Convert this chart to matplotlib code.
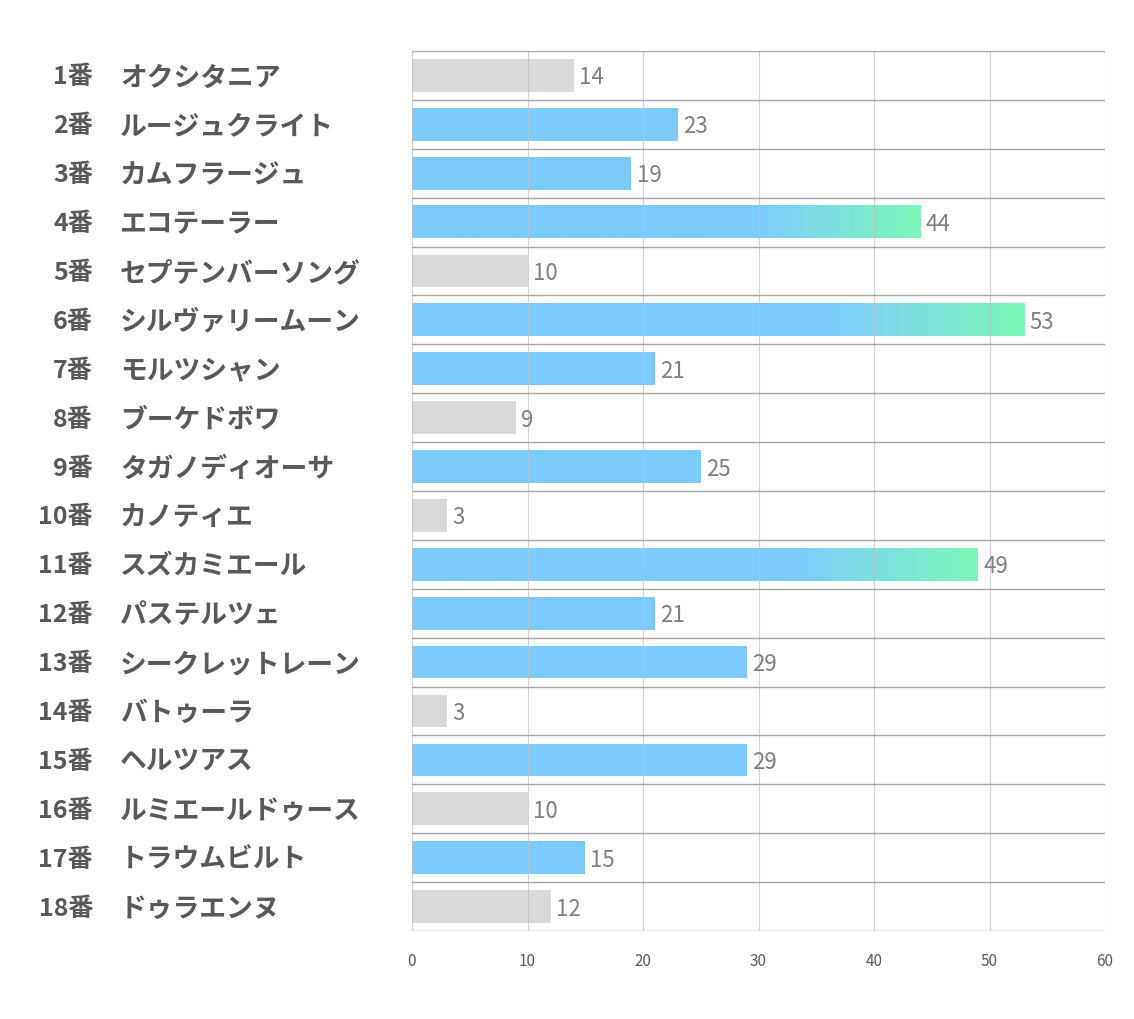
import numpy as np
import matplotlib
matplotlib.use("Agg")
import matplotlib.pyplot as plt
from matplotlib.colors import to_rgb

plt.rcParams['font.family'] = ['Noto Sans CJK JP', 'DejaVu Sans']

numbers = [f"{i}番" for i in range(1, 19)]
names = ["オクシタニア", "ルージュクライト", "カムフラージュ", "エコテーラー",
         "セプテンバーソング", "シルヴァリームーン", "モルツシャン", "ブーケドボワ",
         "タガノディオーサ", "カノティエ", "スズカミエール", "パステルツェ",
         "シークレットレーン", "バトゥーラ", "ヘルツアス", "ルミエールドゥース",
         "トラウムビルト", "ドゥラエンヌ"]
values = [14, 23, 19, 44, 10, 53, 21, 9, 25, 3, 49, 21, 29, 3, 29, 10, 15, 12]
styles = ["gray", "blue", "blue", "grad", "gray", "grad", "blue", "gray", "blue",
          "gray", "grad", "blue", "blue", "gray", "blue", "gray", "blue", "gray"]
xticks = [0, 10, 20, 30, 40, 50, 60]

GRAY = "#D9D9D9"
BLUE = "#7DCBFD"
GREEN = "#7EF8B9"

W, H = 1134, 1020
fig = plt.figure(figsize=(W / 100, H / 100), dpi=100)
ax = fig.add_axes([412 / W, 1 - 932 / H, (1105 - 412) / W, (932 - 52) / H])

n = len(values)
bh = 0.67

b = np.array(to_rgb(BLUE))
g = np.array(to_rgb(GREEN))
for i, (v, s) in enumerate(zip(values, styles)):
    if s == "gray":
        ax.barh(i, v, height=bh, color=GRAY, zorder=2)
    elif s == "blue":
        ax.barh(i, v, height=bh, color=BLUE, zorder=2)
    else:
        N = 400
        t = np.linspace(0, 1, N)
        f = np.clip((t - 0.68) / 0.32, 0, 1)[:, None]
        cols = b * (1 - f) + g * f
        img = cols[None, :, :]
        ax.imshow(img, extent=(0, v, i + bh / 2, i - bh / 2), aspect='auto',
                  zorder=2, interpolation='bilinear')
    ax.text(v + 0.45, i + 0.03, str(v), va='center', ha='left', fontsize=16,
            color='#7F7F7F', zorder=4)

ax.set_xlim(0, 60)
ax.set_ylim(n - 0.5, -0.5)

for x in xticks:
    ax.axvline(x, color='#BFBFBF', lw=0.8, alpha=0.7, zorder=3)
for k in range(n + 1):
    ax.axhline(k - 0.5, color='#A6A6A6', lw=1.0, zorder=3)

for sp in ax.spines.values():
    sp.set_visible(False)
ax.set_yticks([])
ax.set_xticks(xticks)
ax.set_xticklabels([str(x) for x in xticks], fontsize=11, color='#595959')
ax.tick_params(axis='x', length=0, pad=15)

for i in range(n):
    ycen = 1 - (53 + (i + 0.5) * (880 / n)) / H
    fig.text(93 / W, ycen, numbers[i], ha='right', va='center', fontsize=18,
             fontweight='bold', color='#595959')
    fig.text(120 / W, ycen, names[i], ha='left', va='center', fontsize=19.3,
             fontweight='bold', color='#595959')

fig.savefig("out.png", dpi=100)
